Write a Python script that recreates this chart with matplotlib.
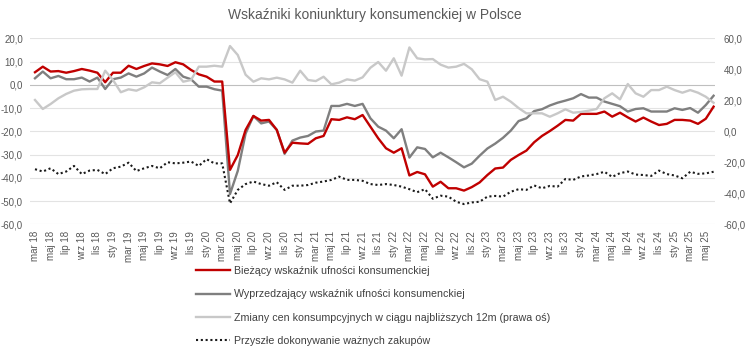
import matplotlib
matplotlib.use("Agg")
import matplotlib.pyplot as plt
from matplotlib.lines import Line2D

plt.rcParams['font.family'] = ['Liberation Sans', 'DejaVu Sans']

# dane miesieczne: mar 18 - cze 25
miesiace = ['sty', 'lut', 'mar', 'kwi', 'maj', 'cze', 'lip', 'sie', 'wrz', 'paź', 'lis', 'gru']
rok_start, mies_start = 2018, 3

bwuk = [5.4, 7.8, 5.7, 5.9, 5.2, 5.9, 6.8, 6.1, 5.2, 1.1, 5.2, 5.2, 8.2, 6.8, 8.1, 9.2, 8.8, 8.1, 9.7, 8.8,
        6.4, 4.5, 3.5, 1.4, 1.4, -36.6, -30.2, -19.4, -13.4, -15.4, -15.1, -19.4, -29.2, -24.9, -25.2, -25.4,
        -23.0, -22.0, -14.8, -15.1, -14.0, -14.8, -13.0, -18.0, -23.0, -27.3, -29.2, -27.3, -39.0, -37.5,
        -38.5, -43.8, -41.7, -44.5, -44.5, -45.5, -44.0, -42.0, -38.8, -36.0, -35.6, -32.3, -30.2, -28.3,
        -24.7, -22.0, -19.9, -17.6, -15.1, -15.4, -12.5, -12.5, -12.5, -11.5, -13.7, -12.0, -14.0, -15.8,
        -14.1, -15.8, -17.3, -16.8, -15.1, -15.1, -15.4, -16.8, -14.6, -9.4]

wwuk = [2.8, 5.7, 2.8, 3.8, 2.4, 2.4, 3.1, 1.4, 3.1, -1.8, 2.4, 3.1, 4.9, 3.5, 4.9, 7.4, 5.7, 4.2, 6.8, 3.5,
        2.4, -0.8, -0.8, -1.9, -2.5, -47.0, -37.0, -21.0, -13.4, -16.6, -15.8, -19.4, -29.7, -24.0, -22.7,
        -22.0, -20.1, -19.7, -9.1, -9.1, -8.2, -9.1, -8.2, -14.4, -18.0, -19.7, -23.0, -19.1, -31.3, -26.9,
        -27.6, -31.2, -29.2, -31.2, -33.3, -35.5, -33.9, -30.5, -27.4, -25.3, -22.8, -19.7, -15.6, -14.4,
        -11.3, -10.5, -8.9, -7.7, -6.8, -5.8, -4.0, -5.5, -5.5, -7.2, -8.2, -9.2, -11.5, -10.4, -10.1,
        -11.5, -11.5, -11.5, -10.1, -10.8, -10.0, -12.0, -8.7, -4.7]

ceny = [20.2, 14.4, 17.6, 21.3, 24.1, 26.2, 27.1, 27.3, 27.3, 39.1, 33.1, 25.2, 27.1, 26.2, 28.4, 31.6, 31.0,
        34.6, 38.1, 32.0, 33.1, 41.7, 41.7, 42.3, 41.7, 55.0, 49.2, 36.5, 32.0, 34.2, 33.5, 34.6, 33.5, 31.4,
        39.1, 33.1, 32.4, 35.2, 30.3, 31.4, 33.5, 32.7, 34.8, 41.0, 44.7, 39.1, 47.1, 35.9, 54.1, 47.1, 46.4,
        46.6, 43.0, 41.1, 41.7, 43.5, 40.0, 33.6, 32.0, 20.2, 22.3, 19.1, 15.0, 11.6, 11.6, 11.6, 9.4, 11.6,
        14.2, 12.0, 12.5, 13.3, 14.4, 21.3, 24.5, 20.6, 30.5, 24.5, 22.3, 26.6, 26.6, 28.8, 26.6, 24.9, 26.6,
        24.9, 22.3, 18.4]

zakupy = [-36.3, -37.3, -35.9, -38.4, -37.3, -34.9, -38.4, -36.9, -36.6, -38.4, -35.9, -35.2, -33.5, -37.1,
          -35.9, -34.9, -35.9, -33.3, -33.8, -33.5, -33.0, -34.9, -32.0, -33.8, -33.8, -51.0, -45.2, -42.7,
          -41.6, -42.7, -43.4, -41.9, -45.2, -43.4, -43.4, -43.1, -42.1, -41.6, -40.9, -39.5, -40.9, -40.9,
          -41.3, -42.7, -43.1, -42.7, -43.1, -43.8, -44.9, -46.2, -44.9, -49.0, -47.7, -48.1, -50.3, -51.3,
          -50.6, -50.3, -48.1, -47.8, -48.1, -46.0, -44.9, -45.2, -43.3, -44.5, -43.5, -43.8, -40.5, -40.9,
          -39.4, -39.0, -38.4, -37.4, -39.6, -38.0, -37.3, -38.6, -38.8, -39.2, -36.9, -38.4, -39.0, -40.2,
          -37.4, -38.3, -38.1, -37.4]

etykiety = []
for k in range(len(bwuk)):
    m = mies_start - 1 + k
    etykiety.append(f"{miesiace[m % 12]} {(rok_start + m // 12) % 100:02d}")

nazwy = ['Bieżący wskaźnik ufności konsumenckiej',
         'Wyprzedzający wskaźnik ufności konsumenckiej',
         'Zmiany cen konsumpcyjnych w ciągu najbliższych 12m (prawa oś)',
         'Przyszłe dokonywanie ważnych zakupów']

txt = '#595959'
x = list(range(len(bwuk)))

fig = plt.figure(figsize=(7.48, 3.49), dpi=100)
ax = fig.add_axes([30 / 748, 1 - 224.3 / 349, 685 / 748, 186 / 349])
ax2 = ax.twinx()

ax.set_ylim(-60, 20)
ax.set_yticks(range(-60, 21, 10))
ax.set_yticklabels([f"{v},0" for v in range(-60, 21, 10)])
ax2.set_ylim(-60, 60)
ax2.set_yticks(range(-60, 61, 20))
ax2.set_yticklabels([f"{v},0" for v in range(-60, 61, 20)])
ax.set_xlim(-0.64, 87.18)

for v in range(-60, 21, 10):
    ax.axhline(v, color='#bfbfbf' if v == 0 else '#e3e3e3', lw=0.8, zorder=0)

ax.plot(x, bwuk, color='#c00000', lw=1.7, zorder=4)
ax.plot(x, wwuk, color='#7f7f7f', lw=1.7, zorder=3)
ax.plot(x, zakupy, color='#1a1a1a', lw=1.5, ls=(0, (1, 1.3)), zorder=2)
ax2.plot(x, ceny, color='#c8c8c8', lw=1.7)

ax.set_xticks(x[::2])
ax.set_xticklabels(etykiety[::2], rotation=90)

for a in (ax, ax2):
    for s in a.spines.values():
        s.set_visible(False)
    a.tick_params(length=0, labelsize=7, labelcolor=txt)
ax.tick_params(axis='y', pad=5)
ax.tick_params(axis='x', pad=5)
ax2.tick_params(axis='y', pad=6)

fig.text(375 / 748, 1 - 15 / 349, 'Wskaźniki koniunktury konsumenckiej w Polsce',
         ha='center', va='center', fontsize=10, color=txt)

uchwyty = [Line2D([], [], color='#c00000', lw=1.7),
           Line2D([], [], color='#7f7f7f', lw=1.7),
           Line2D([], [], color='#c8c8c8', lw=1.7),
           Line2D([], [], color='#1a1a1a', lw=1.5, ls=(0, (1, 1.3)))]
fig.legend(uchwyty, nazwy, loc='upper left', bbox_to_anchor=(196 / 748, 1 - 266 / 349),
           frameon=False, fontsize=7.7, labelcolor='#404040', handlelength=3.2,
           handletextpad=0.4, labelspacing=1.25, borderpad=0, borderaxespad=0)

fig.savefig('out.png', dpi=100)
